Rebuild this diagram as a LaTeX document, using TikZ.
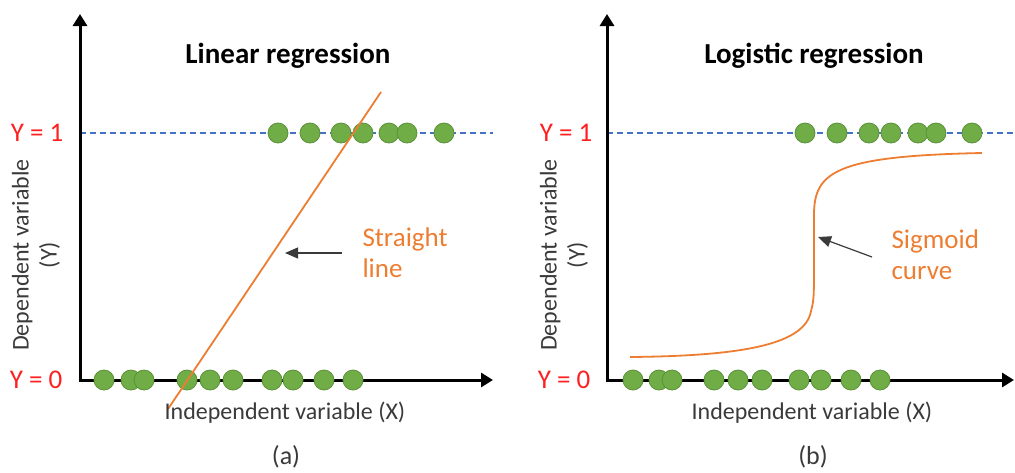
\documentclass[tikz,border=0pt]{standalone}
\usepackage{fontspec}
\setmainfont{Carlito}
\usetikzlibrary{arrows.meta}
\definecolor{dotfill}{HTML}{70AD47}
\definecolor{dotedge}{HTML}{5B9138}
\definecolor{curveorange}{HTML}{ED7D31}
\definecolor{refblue}{HTML}{4472C4}
\definecolor{levelred}{HTML}{FF1F1F}
\definecolor{labelgray}{HTML}{3A3A3A}
\begin{document}
\begin{tikzpicture}[x=1pt,y=-1pt,
  axis/.style={line width=3pt,-{Triangle[length=12pt,width=14pt]}},
  levelline/.style={refblue,line width=1.4pt,dash pattern=on 6pt off 4pt},
  dot/.style={circle,fill=dotfill,draw=dotedge,line width=0.8pt,minimum size=20pt,inner sep=0pt},
  fitline/.style={curveorange,line width=1.8pt},
  pointer/.style={labelgray,line width=1.2pt,-{Triangle[length=13pt,width=11pt]}},
  level/.style={text=levelred,font=\fontsize{27}{30}\selectfont},
  title/.style={font=\bfseries\fontsize{29}{32}\selectfont},
  axislabel/.style={text=labelgray,font=\fontsize{24}{28}\selectfont,align=center},
  note/.style={text=curveorange,font=\fontsize{27}{31}\selectfont,align=left,anchor=west},
  caption/.style={text=labelgray,font=\fontsize{26}{30}\selectfont}
]
\useasboundingbox (0,0) rectangle (1015,472);

% ---------- (a) linear regression ----------
\coordinate (aO) at (80,380);
\coordinate (aYtop) at (80,14);
\coordinate (aXend) at (493,380);
\coordinate (aL0) at (80,133);
\coordinate (aL1) at (493,133);
\draw[levelline] (aL0) -- (aL1);
\draw[axis] ([yshift=1.5pt]aO) -- (aYtop);
\draw[axis] ([xshift=-1.5pt]aO) -- (aXend);

\foreach \x [count=\i] in {278,310,341,363,389,407,444}
  \node[dot] (aup\i) at (\x,133) {};
\foreach \x [count=\i] in {104,131,144,187,210,233,272,293,324,353}
  \node[dot] (adn\i) at (\x,380) {};

\coordinate (aFitA) at (168,409);
\coordinate (aFitB) at (381,92);
\draw[fitline] (aFitA) -- (aFitB);

\node[title] (atitle) at (288,56) {Linear regression};
\node[level] (aone) at (37,133) {Y = 1};
\node[level] (azero) at (36,380) {Y = 0};
\node[axislabel,rotate=90] (aylab) at (36,255) {Dependent variable\\(Y)};
\node[axislabel] (axlab) at (285,413) {Independent variable (X)};
\node[caption] (acap) at (286,457) {(a)};

\node[note] (anote) at (359,253) {Straight\\line};
\coordinate (aTip) at (285,253);
\draw[pointer] ([xshift=-17pt]anote.west) -- (aTip);

% ---------- (b) logistic regression ----------
\coordinate (bO) at (607,380);
\coordinate (bYtop) at (607,14);
\coordinate (bXend) at (1014,380);
\coordinate (bL0) at (607,133);
\coordinate (bL1) at (1015,133);
\draw[levelline] (bL0) -- (bL1);
\draw[axis] ([yshift=1.5pt]bO) -- (bYtop);
\draw[axis] ([xshift=-1.5pt]bO) -- (bXend);

\foreach \x [count=\i] in {805,837,869,891,918,936,972}
  \node[dot] (bup\i) at (\x,133) {};
\foreach \x [count=\i] in {633,659,672,714,738,762,799,821,851,880}
  \node[dot] (bdn\i) at (\x,380) {};

\coordinate (bS0) at (630,357);
\coordinate (bS1) at (810,315);
\coordinate (bS2) at (814,262);
\coordinate (bS3) at (814,215);
\coordinate (bS4) at (982,153);
\draw[fitline] (bS0) .. controls (740,356) and (800,345) .. (bS1)
  .. controls (814,300) .. (bS2) -- (bS3)
  .. controls (814,172) and (835,156) .. (bS4);

\node[title] (btitle) at (814,56) {Logistic regression};
\node[level] (bone) at (566,133) {Y = 1};
\node[level] (bzero) at (564,380) {Y = 0};
\node[axislabel,rotate=90] (bylab) at (564,255) {Dependent variable\\(Y)};
\node[axislabel] (bxlab) at (812,413) {Independent variable (X)};
\node[caption] (bcap) at (813,457) {(b)};

\node[note] (bnote) at (888,255) {Sigmoid\\curve};
\coordinate (bTip) at (818,237);
\draw[pointer] ([xshift=-16pt,yshift=-2pt]bnote.west) -- (bTip);
\end{tikzpicture}
\end{document}
